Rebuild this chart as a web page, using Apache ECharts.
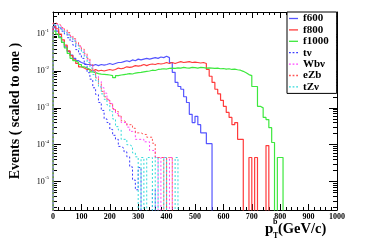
<!DOCTYPE html>
<html><head><meta charset="utf-8">
<script src="https://cdn.jsdelivr.net/npm/echarts@6/dist/echarts.min.js"></script>
<style>html,body{margin:0;padding:0;background:#fff}#c{width:374px;height:249px}</style>
</head><body><div id="c"></div>
<script>
// bin width 10 GeV, bins start at 0
const binWidth = 10;
const seriesNames = ['f600','f800','f1000','tν','Wbν','eZb','tZν'];
const f600 = [0.15,0.12,0.085,0.06,0.045,0.034,0.027,0.022,0.019,0.017,
  0.016,0.015,0.015,0.014,0.015,0.014,0.015,0.0145,0.015,0.016,
  0.015,0.016,0.017,0.017,0.018,0.019,0.018,0.02,0.019,0.021,
  0.02,0.021,0.022,0.021,0.022,0.023,0.022,0.024,0.023,0.025,
  0.023,0.017,0.0092,0.0049,0.0038,0.0032,0.002,0.0014,0.00067,0.0004,
  0.00059,0.00035,0.00021,0.00021,0.000107,0.000107,0];
const f800 = [0.16,0.14,0.1,0.07,0.05,0.035,0.026,0.02,0.016,0.013,
  0.012,0.011,0.011,0.01,0.011,0.01,0.0105,0.01,0.0105,0.011,
  0.0105,0.011,0.012,0.0115,0.012,0.013,0.0125,0.013,0.014,0.0135,
  0.014,0.015,0.014,0.015,0.0155,0.015,0.016,0.0155,0.016,0.017,
  0.016,0.017,0.016,0.017,0.018,0.017,0.0175,0.018,0.017,0.0175,
  0.017,0.0165,0.017,0.016,0.011,0.0072,0.0049,0.0032,0.0024,0.0016,
  0.0011,0.00075,0.00055,0.00035,0.0004,0.00014,0.00014,0,0,4.5e-5,
  0,4.5e-5,0,0,0,9.5e-5,0];
const f1000 = [0.12,0.1,0.08,0.06,0.042,0.03,0.022,0.019,0.017,0.015,
  0.013,0.012,0.011,0.0095,0.009,0.0085,0.0082,0.0081,0.008,0.0078,
  0.0075,0.0066,0.0075,0.0078,0.008,0.0082,0.0085,0.0083,0.0088,0.009,
  0.0092,0.0095,0.0098,0.01,0.0105,0.0103,0.011,0.0112,0.0115,0.0113,
  0.0118,0.012,0.0118,0.0122,0.012,0.0125,0.0122,0.012,0.0125,0.0123,
  0.012,0.0125,0.0123,0.012,0.0122,0.012,0.0118,0.012,0.0115,0.0117,
  0.0113,0.0115,0.011,0.0112,0.0108,0.0105,0.0098,0.009,0.008,0.0075,
  0.0038,0.0038,0.0011,0.001,0.00055,0.00048,0.00029,0.000115,0,4.5e-5,
  4.5e-5,0];
const tnu = [0.17,0.16,0.14,0.12,0.1,0.08,0.064,0.05,0.038,0.029,
  0.022,0.015,0.009,0.006,0.0035,0.0023,0.0014,0.00085,0.0005,0.0004,
  0.00026,0.00018,0.00014,0.00009,0.00008,0.000064,0.000047,0.000025,0.000011,0.000006,
  0.000024,0,0,0,0,0.000006,0];
const wbnu = [0.19,0.18,0.16,0.14,0.12,0.1,0.085,0.07,0.055,0.045,
  0.035,0.027,0.02,0.014,0.01,0.0072,0.0052,0.0035,0.0025,0.0017,
  0.0013,0.0009,0.0007,0.0006,0.0004,0.0004,0.0003,0.00023,0.00023,0.00014,
  0.00014,0.00014,0.00012,0.00012,0.00007,0.00007,4.5e-5,0,4.5e-5,4.5e-5,
  0,4.5e-5,0];
const ezb = [0.2,0.19,0.17,0.15,0.13,0.11,0.09,0.075,0.06,0.048,
  0.039,0.03,0.022,0.015,0.01,0.0065,0.0045,0.0028,0.002,0.0016,
  0.0013,0.00095,0.0008,0.0006,0.00045,0.0004,0.00035,0.00035,0.00028,0.00021,
  0.00021,0.00019,0.00019,0.00016,0.00016,0.00011,4.5e-5,4.5e-5,4.5e-5,0,
  4.5e-5,4.5e-5,0];
const tznu = [0.18,0.17,0.15,0.13,0.11,0.095,0.08,0.065,0.05,0.04,
  0.032,0.024,0.017,0.012,0.008,0.0055,0.0037,0.0024,0.0017,0.0012,
  0.0008,0.0005,0.00031,0.00025,0.00014,0.00014,0.0001,0.00009,0.00006,4.7e-5,
  0,4.5e-5,0,4.5e-5,4.5e-5,0,4.5e-5,0,0,4.5e-5,
  0,0,0,4.5e-5,0];
const xTicks = [0,100,200,300,400,500,600,700,800,900,1000];
const yDecades = [-5,-4,-3,-2,-1];

const allVals = [f600,f800,f1000,tnu,wbnu,ezb,tznu];
const colors = ['#5555ff','#ff3b3b','#3de83d','#3a3aff','#ff44ff','#ff5555','#33dada'];
const dashed = [false,false,false,true,true,true,true];
const FLOOR = -8;
const yMin = -5.77, yMax = -0.4;

function toPts(vals){
  const pts = [[0, FLOOR]];
  vals.forEach((v,i)=>pts.push([i*binWidth, v>0?Math.log10(v):FLOOR]));
  pts.push([vals.length*binWidth, FLOOR]);
  return pts;
}
const minorY = [];
for (let n=-6;n<0;n++) for (let k=2;k<=9;k++){const v=n+Math.log10(k); if(v>yMin&&v<yMax) minorY.push(v);}

const serif = 'Liberation Serif';
const chart = echarts.init(document.getElementById('c'));
const series = allVals.map((vals,i)=>({
  name: seriesNames[i], type:'line', step:'end', data: toPts(vals),
  showSymbol:false, symbol:'none', clip:true, animation:false,
  lineStyle:{color:colors[i], width: dashed[i]?1:1.2, type: dashed[i]?[2,2]:'solid'},
  itemStyle:{color:colors[i]}, xAxisIndex:0, yAxisIndex:0
}));
const solidIcon = 'path://M0,0h10v1h-10z';
const dashIcon = 'path://M0,0h2v1h-2z M4,0h2v1h-2z M8,0h2v1h-2z';
const yBase = {type:'value', min:yMin, max:yMax, splitLine:{show:false}};
chart.setOption({
  animation:false,
  grid:{left:51, right:37, top:12, bottom:39},
  legend:{
    data: seriesNames.map((n,i)=>({name:n, icon: dashed[i]?dashIcon:solidIcon})),
    orient:'vertical', left:287, top:12, symbolKeepAspect:false,
    itemWidth:9, itemHeight:1.3, itemGap:0.4, padding:[1,8,1,2],
    backgroundColor:'#fff', borderColor:'#000', borderWidth:1, borderRadius:0,
    textStyle:{fontFamily:serif, fontWeight:'bold', fontSize:11, color:'#000', lineHeight:11}
  },
  xAxis:[
    {type:'value', min:0, max:1000, interval:100, position:'bottom',
     axisLine:{lineStyle:{color:'#000',width:1}},
     axisTick:{inside:true, length:6, lineStyle:{color:'#000'}},
     minorTick:{show:true, splitNumber:5, length:3, lineStyle:{color:'#000'}},
     splitLine:{show:false}, minorSplitLine:{show:false},
     axisLabel:{fontFamily:serif, fontWeight:'bold', fontSize:8, color:'#000', margin:3,
       formatter: v=>String(v)}},
    {type:'value', min:0, max:1000, interval:100, position:'top',
     axisLine:{lineStyle:{color:'#000',width:1}},
     axisTick:{inside:true, length:6, lineStyle:{color:'#000'}},
     minorTick:{show:true, splitNumber:5, length:3, lineStyle:{color:'#000'}},
     splitLine:{show:false}, axisLabel:{show:false}}
  ],
  yAxis:[
    Object.assign({}, yBase, {position:'left',
      name:'Events ( scaled to one )', nameLocation:'middle', nameGap:31, nameRotate:90,
      nameTextStyle:{fontFamily:serif, fontWeight:'bold', fontSize:14, color:'#000'},
      axisLine:{show:true, lineStyle:{color:'#000'}},
      axisTick:{show:true, inside:true, length:8, customValues:yDecades, lineStyle:{color:'#000'}},
      axisLabel:{customValues:yDecades, margin:4, color:'#000',
        formatter:v=>'{b|10}{s|'+Math.round(v)+'}',
        rich:{b:{fontFamily:serif, fontSize:8, color:'#000', lineHeight:12},
              s:{fontFamily:serif, fontSize:5, color:'#000', verticalAlign:'top', lineHeight:12, padding:[0,0,5,0]}}}}),
    Object.assign({}, yBase, {position:'left', offset:0,
      axisLine:{show:false}, axisLabel:{show:false},
      axisTick:{show:true, inside:true, length:4, customValues:minorY, lineStyle:{color:'#000'}}}),
    Object.assign({}, yBase, {position:'right', offset:0,
      axisLine:{show:true, lineStyle:{color:'#000'}}, axisLabel:{show:false},
      axisTick:{show:true, inside:true, length:8, customValues:yDecades, lineStyle:{color:'#000'}}}),
    Object.assign({}, yBase, {position:'right', offset:0,
      axisLine:{show:false}, axisLabel:{show:false},
      axisTick:{show:true, inside:true, length:4, customValues:minorY, lineStyle:{color:'#000'}}})
  ],
  graphic:[
    {type:'text', left:265, top:222, style:{text:'p', fontFamily:serif, fontWeight:'bold', fontSize:15, fill:'#000'}},
    {type:'text', left:273, top:218, style:{text:'b', fontFamily:serif, fontWeight:'bold', fontSize:8, fill:'#000'}},
    {type:'text', left:273, top:232, style:{text:'T', fontFamily:serif, fontWeight:'bold', fontSize:8, fill:'#000'}},
    {type:'text', left:278, top:222, style:{text:'(GeV/c)', fontFamily:serif, fontWeight:'bold', fontSize:14.5, fill:'#000'}}
  ],
  series: series
});
</script></body></html>
